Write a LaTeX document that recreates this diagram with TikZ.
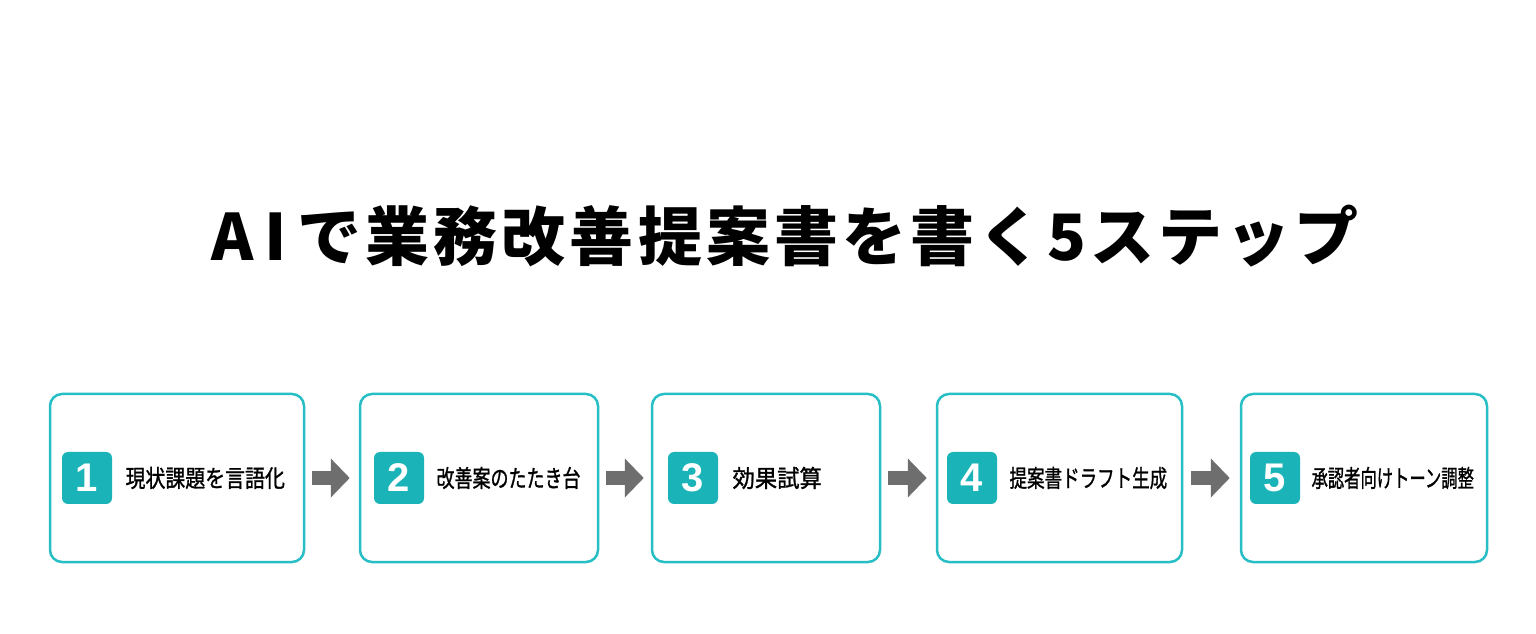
\documentclass[tikz,border=0pt]{standalone}
\usepackage{fontspec}
\usetikzlibrary{positioning,arrows.meta}
\newfontfamily\jpfont{Noto Sans CJK JP}[FakeBold=1.2]
\newfontfamily\titlefont{Noto Sans CJK JP}[LetterSpace=6.5]
\newfontfamily\numfont{Liberation Sans}
\newlength{\du}
\setlength{\du}{0.75pt}
\definecolor{stepteal}{RGB}{40,190,198}
\definecolor{badgeteal}{RGB}{26,180,184}
\definecolor{arrowgray}{RGB}{110,110,110}
\tikzset{
  stepbox/.style={draw=stepteal, line width=2.5\du, rounded corners=12\du, fill=white, inner sep=0pt, minimum height=168\du},
  badge/.style={fill=badgeteal, rounded corners=6\du, minimum width=50\du, minimum height=52\du, inner sep=0pt, text=white, font=\numfont\bfseries\fontsize{40\du}{40\du}\selectfont},
  steptext/.style={inner sep=0pt, anchor=west, font=\jpfont\fontsize{24\du}{24\du}\selectfont},
  steparrow/.style={draw=arrowgray, line width=10.5pt, -{Triangle[length=14.25pt,width=28.5pt]}},
}
\begin{document}
\begin{tikzpicture}
\useasboundingbox[fill=white] (0,0) rectangle (1536\du,-634\du);
% title
\node[font=\titlefont\bfseries\fontsize{64\du}{64\du}\selectfont] (title) at (785\du,-236\du) {A\,I\,で業務改善提案書を書く5ステップ};
% step boxes
\node[stepbox, minimum width=254\du] (b1) at (177\du,-478\du) {};
\node[stepbox, minimum width=238\du] (b2) at (479\du,-478\du) {};
\node[stepbox, minimum width=228\du] (b3) at (766\du,-478\du) {};
\node[stepbox, minimum width=245\du] (b4) at (1059.5\du,-478\du) {};
\node[stepbox, minimum width=246\du] (b5) at (1364\du,-478\du) {};
% numbers
\node[badge, right=13\du of b1.west] (n1) {1};
\node[badge, right=15\du of b2.west] (n2) {2};
\node[badge, right=17\du of b3.west] (n3) {3};
\node[badge, right=11\du of b4.west] (n4) {4};
\node[badge, right=10\du of b5.west] (n5) {5};
% labels
\node[steptext, right=13\du of n1] (t1) {\scalebox{0.83}[1]{現状課題を言語化}};
\node[steptext, right=12\du of n2] (t2) {\scalebox{0.75}[1]{改善案のたたき台}};
\node[steptext, right=14\du of n3] (t3) {\scalebox{0.93}[1]{効果試算}};
\node[steptext, right=12\du of n4] (t4) {\scalebox{0.73}[1]{提案書ドラフト生成}};
\node[steptext, right=11\du of n5] (t5) {\scalebox{0.68}[1]{承認者向けトーン調整}};
% arrows
\draw[steparrow] ([xshift=7\du]b1.east) -- ([xshift=-9\du]b2.west);
\draw[steparrow] ([xshift=7\du]b2.east) -- ([xshift=-7\du]b3.west);
\draw[steparrow] ([xshift=7\du]b3.east) -- ([xshift=-9\du]b4.west);
\draw[steparrow] ([xshift=8\du]b4.east) -- ([xshift=-10\du]b5.west);
\end{tikzpicture}
\end{document}
